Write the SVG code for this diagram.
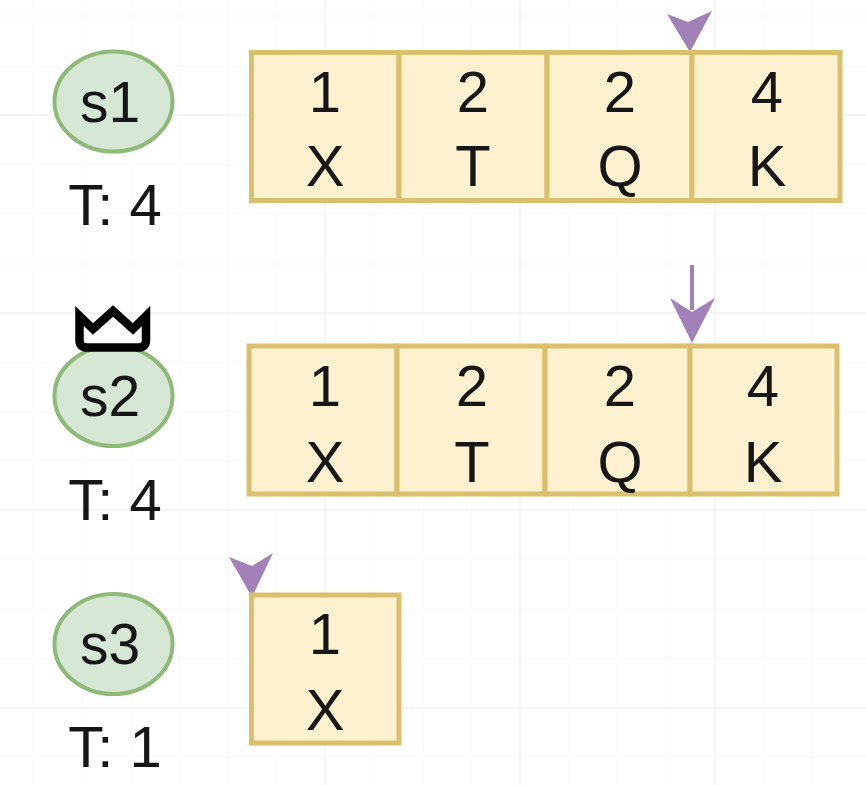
<svg xmlns="http://www.w3.org/2000/svg" width="866" height="785" viewBox="0 0 866 785">
<defs><filter id="soft" x="0" y="0" width="100%" height="100%"><feGaussianBlur stdDeviation="0.6"/></filter></defs>
<style>
text{font-family:"Liberation Sans",Arial,sans-serif;fill:#151515;text-anchor:middle;font-size:58px}
.lbl{font-size:57px}
.cell{fill:#fdf1d0;stroke:#dabf6c;stroke-width:5}
.oval{fill:#d6e8d5;stroke:#8dba76;stroke-width:4}
.g1{stroke:#fafafa;stroke-width:1.500;fill:none}
.g2{stroke:#f2f2f2;stroke-width:1.500;fill:none}
.head{fill:#a280b8}
</style>
<rect width="866" height="785" fill="#fff"/>
<g filter="url(#soft)">
<path class="g1" d="M33 0V785M82 0V785M131 0V785M179 0V785M228 0V785M277 0V785M374 0V785M423 0V785M471 0V785M569 0V785M617 0V785M666 0V785M763 0V785M812 0V785M0 16H866M0 66H866M0 165H866M0 214H866M0 264H866M0 362H866M0 411H866M0 461H866M0 559H866M0 609H866M0 658H866M0 757H866"/>
<path class="g2" d="M325 0V785M520 0V785M715 0V785M0 115H866M0 313H866M0 510H866M0 708H866"/>
<g id="connectors">
<path d="M692 265V310" stroke="#a280b8" stroke-width="4" fill="none"/>
<path class="head" d="M692 343L670 298L692 312L715 298Z"/>
<path class="head" d="M690 52L667 14L688 22L712 11Z"/>
<path class="head" d="M252 597L229 557L252 566L273 553Z"/>
</g>
<g id="s1"><ellipse class="oval" cx="113.500" cy="101.500" rx="59" ry="50"/><text class="lbl" x="110" y="122">s1</text></g>
<g id="s1-term"><text x="115" y="225">T: 4</text></g>
<g id="s2"><ellipse class="oval" cx="113.500" cy="396" rx="59" ry="50"/><text class="lbl" x="110" y="416">s2</text></g>
<g id="crown"><path d="M79.500 316V340Q79.500 347.500 87 347.500H138.500Q146 347.500 146 340V316L133 329L113 311L93 329Z" fill="#fff" stroke="#000" stroke-width="8.500" stroke-linejoin="miter"/></g>
<g id="s2-term"><text x="115" y="520">T: 4</text></g>
<g id="s3"><ellipse class="oval" cx="113.500" cy="644" rx="59" ry="50"/><text class="lbl" x="110" y="664">s3</text></g>
<g id="s3-term"><text x="115" y="767">T: 1</text></g>
<g id="log1">
<rect class="cell" x="251.500" y="52.500" width="147.500" height="148"/><rect class="cell" x="399" y="52.500" width="148" height="148"/><rect class="cell" x="547" y="52.500" width="145" height="148"/><rect class="cell" x="692" y="52.500" width="148" height="148"/>
<text x="325" y="112">1</text><text x="325" y="186">X</text><text x="473" y="112">2</text><text x="473" y="186">T</text><text x="620" y="112">2</text><text x="620" y="186">Q</text><text x="767" y="112">4</text><text x="767" y="186">K</text>
</g>
<g id="log2">
<rect class="cell" x="249" y="346" width="148" height="148"/><rect class="cell" x="397" y="346" width="148" height="148"/><rect class="cell" x="545" y="346" width="145" height="148"/><rect class="cell" x="690" y="346" width="147" height="148"/>
<text x="325" y="406">1</text><text x="325" y="482">X</text><text x="472" y="406">2</text><text x="472" y="482">T</text><text x="620" y="406">2</text><text x="620" y="482">Q</text><text x="763" y="406">4</text><text x="763" y="482">K</text>
</g>
<g id="log3">
<rect class="cell" x="251.500" y="595" width="147.500" height="148"/>
<text x="325" y="654">1</text><text x="325" y="730">X</text>
</g>
</g>
</svg>
